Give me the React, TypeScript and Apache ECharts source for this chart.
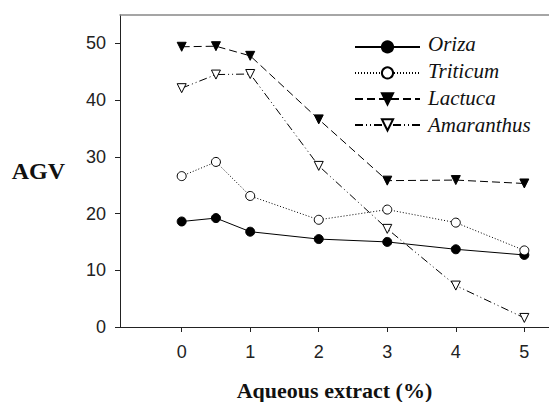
import React, { useEffect, useRef } from "react";
import * as echarts from "echarts";

const xValues = [0, 0.5, 1, 2, 3, 4, 5];
const xTicks = [0, 1, 2, 3, 4, 5];
const yTicks = [0, 10, 20, 30, 40, 50];
const seriesNames = ["Oriza", "Triticum", "Lactuca", "Amaranthus"];
const oriza = [18.6, 19.2, 16.8, 15.5, 15.0, 13.7, 12.7];
const triticum = [26.6, 29.1, 23.1, 18.9, 20.7, 18.4, 13.5];
const lactuca = [49.4, 49.5, 47.8, 36.6, 25.8, 25.9, 25.3];
const amaranthus = [42.1, 44.5, 44.6, 28.4, 17.3, 7.3, 1.6];

const pair = (ys: number[]) => xValues.map((x, i) => [x, ys[i]]);

export default function App() {
  const ref = useRef<HTMLDivElement>(null);
  useEffect(() => {
    document.body.style.margin = "0";
    const chart = echarts.init(ref.current!, null, { renderer: "svg" });
    const sans = "Liberation Sans";
    const serif = "Liberation Serif";
    const legendTop = 35.3;
    const rowPitch = 26.8;
    const mk = (
      name: string,
      ys: number[],
      symbol: string,
      rotate: number,
      fill: string,
      dash: any,
      size: number
    ) => ({
      name,
      type: "line",
      z: 5,
      data: pair(ys),
      symbol,
      symbolRotate: rotate,
      symbolSize: size,
      showAllSymbol: true,
      lineStyle: { color: "#000", width: 1, type: dash },
      itemStyle: { color: fill, borderColor: "#000", borderWidth: 1 },
      emphasis: { disabled: true },
    });
    chart.setOption({
      animation: false,
      grid: { left: 120, top: 15, right: 0, bottom: 75, outerBoundsMode: "none", containLabel: false },
      legend: {
        orient: "vertical",
        left: 349,
        top: legendTop,
        itemWidth: 65,
        itemHeight: 14,
        itemGap: rowPitch - 14,
        formatter: () => "",
        textStyle: { fontSize: 10, lineHeight: 14 },
        selectedMode: false,
        data: seriesNames,
      },
      graphic: seriesNames.map((n, i) => ({
        type: "text",
        z: -100,
        x: 428,
        y: legendTop + 7 + i * rowPitch + 2,
        style: {
          text: n,
          fontFamily: serif,
          fontStyle: "italic",
          fontWeight: "normal",
          fontSize: 21,
          fill: "#111",
          verticalAlign: "middle",
          align: "left",
        },
      })),
      xAxis: [
        {
          type: "value",
          z: 10,
          min: -0.9,
          max: 5.36,
          position: "bottom",
          name: "Aqueous extract (%)",
          nameLocation: "middle",
          nameGap: 52,
          nameTextStyle: { fontFamily: serif, fontWeight: "bold", fontSize: 22, color: "#111" },
          axisLine: { onZero: false, lineStyle: { color: "#222", width: 1 } },
          axisTick: { show: true, length: 5, customValues: xTicks, lineStyle: { color: "#222" } },
          axisLabel: {
            customValues: xTicks,
            fontFamily: sans,
            fontSize: 18,
            color: "#222",
            margin: 16,
          },
          splitLine: { show: false },
        },
        {
          type: "value",
          z: 10,
          min: -0.9,
          max: 5.36,
          position: "top",
          axisLine: { show: true, onZero: false, lineStyle: { color: "#888", width: 1.5 } },
          axisTick: { show: false },
          axisLabel: { show: false },
          splitLine: { show: false },
        },
      ],
      yAxis: {
        type: "value",
        z: 10,
        min: 0,
        max: 55,
        name: "AGV",
        nameLocation: "middle",
        nameRotate: 0,
        nameGap: 55,
        nameTextStyle: { fontFamily: serif, fontWeight: "bold", fontSize: 24, color: "#111" },
        axisLine: { show: true, onZero: false, lineStyle: { color: "#222", width: 1 } },
        axisTick: { show: true, length: 5, customValues: yTicks, lineStyle: { color: "#222" } },
        axisLabel: {
          customValues: yTicks,
          fontFamily: sans,
          fontSize: 18,
          color: "#222",
          margin: 14,
        },
        splitLine: { show: false },
      },
      series: [
        mk(seriesNames[0], oriza, "circle", 0, "#000", "solid", 9),
        mk(seriesNames[1], triticum, "circle", 0, "#fff", [1, 2], 9),
        mk(seriesNames[2], lactuca, "triangle", 180, "#000", [8, 4], 9),
        mk(seriesNames[3], amaranthus, "triangle", 180, "#fff", [8, 3, 1, 3, 1, 3], 9),
      ],
    });
    return () => chart.dispose();
  }, []);
  return (
    <div
      ref={ref}
      style={{ position: "absolute", left: 0, top: 0, width: 549, height: 402 }}
    />
  );
}
